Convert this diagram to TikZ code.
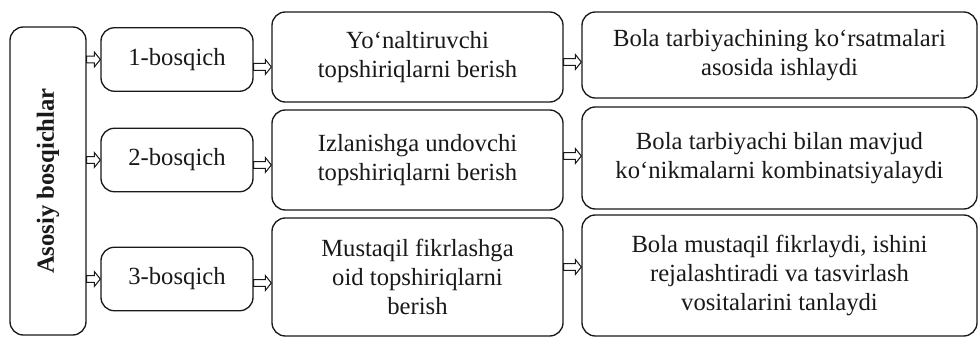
\documentclass[tikz,border=0pt]{standalone}
\usepackage{fontspec}
\setmainfont{Liberation Serif}
\usetikzlibrary{calc}
\tikzset{
  box/.style={draw=black!90, line width=1pt, rounded corners=10pt, align=center, inner sep=2pt,
    font=\fontsize{18.5}{21.5}\selectfont, text=black!90},
  harrow/.style={draw=black!90, line width=0.75pt, fill=white},
}
\newcommand\harrow[2]{\draw[harrow] let \p1=(#1), \p2=(#2) in
  (\x1,\y1+2.6pt) -- (\x2-4.5pt,\y1+2.6pt) -- (\x2-4.5pt,\y1+5.6pt) -- (\x2,\y1)
  -- (\x2-4.5pt,\y1-5.6pt) -- (\x2-4.5pt,\y1-2.6pt) -- (\x1,\y1-2.6pt) -- cycle;}
\begin{document}
\begin{tikzpicture}[x=0.75pt,y=-0.75pt]
\useasboundingbox (0,0) rectangle (978,338);
% left box
\node[box, minimum width=57pt, minimum height=231pt] (A) at (48,181)
  {\rotatebox{90}{\bfseries Asosiy bosqichlar}};
% stage boxes
\node[box, minimum width=114pt, minimum height=47.6pt] (S1) at (177,59.5) {1-bosqich};
\node[box, minimum width=114pt, minimum height=47.6pt] (S2) at (177,160) {2-bosqich};
\node[box, minimum width=114pt, minimum height=47.6pt] (S3) at (177,279) {3-bosqich};
% middle boxes
\node[box, minimum width=218.25pt, minimum height=67.5pt] (M1) at (417.5,57)
  {Yo‘naltiruvchi\\topshiriqlarni berish};
\node[box, minimum width=218.25pt, minimum height=75pt] (M2) at (417.5,160)
  {Izlanishga undovchi\\topshiriqlarni berish};
\node[box, minimum width=218.25pt, minimum height=88.5pt] (M3) at (417.5,277)
  {Mustaqil fikrlashga\\oid topshiriqlarni\\berish};
% right boxes
\node[box, minimum width=296.25pt, minimum height=64.5pt] (R1) at (779.5,55)
  {Bola tarbiyachining ko‘rsatmalari\\asosida ishlaydi};
\node[box, minimum width=296.25pt, minimum height=76.5pt] (R2) at (779.5,158)
  {Bola tarbiyachi bilan mavjud\\ko‘nikmalarni kombinatsiyalaydi};
\node[box, minimum width=296.25pt, minimum height=90.75pt] (R3) at (779.5,275.5)
  {Bola mustaqil fikrlaydi, ishini\\rejalashtiradi va tasvirlash\\vositalarini tanlaydi};
% arrows A -> S
\harrow{A.east |- S1.west}{S1.west}
\harrow{A.east |- S2.west}{S2.west}
\harrow{A.east |- S3.west}{S3.west}
% arrows S -> M
\coordinate (s1) at ([yshift=-5.6pt]S1.east);
\coordinate (s2) at ([yshift=-3.75pt]S2.east);
\coordinate (s3) at ([yshift=-3pt]S3.east);
\harrow{s1}{M1.west |- s1}
\harrow{s2}{M2.west |- s2}
\harrow{s3}{M3.west |- s3}
% arrows M -> R
\coordinate (m1) at ([yshift=-3.75pt]M1.east);
\coordinate (m2) at ([yshift=3pt]M2.east);
\coordinate (m3) at ([yshift=7.5pt]M3.east);
\harrow{m1}{R1.west |- m1}
\harrow{m2}{R2.west |- m2}
\harrow{m3}{R3.west |- m3}
\end{tikzpicture}
\end{document}
